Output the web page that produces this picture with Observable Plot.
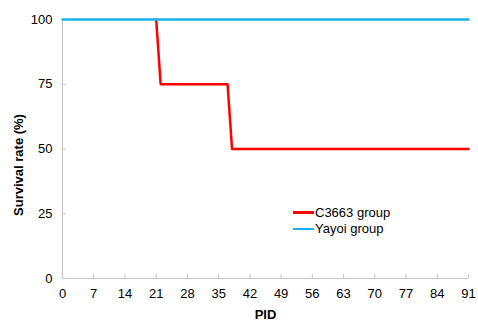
<!DOCTYPE html>
<html>
<head>
<meta charset="utf-8">
<script src="https://cdn.jsdelivr.net/npm/d3@7"></script>
<script src="https://cdn.jsdelivr.net/npm/@observablehq/plot@0.6"></script>
<style>
  body { margin: 0; background: #fff; font-family: "Liberation Sans", Arial, sans-serif; }
  #wrap { position: relative; width: 478px; height: 322px; }
  #legend { position: absolute; left: 293px; top: 204px; font-size: 13px; color: #000; }
  .item { display: flex; align-items: center; height: 16.5px; }
  .swatch { width: 21px; height: 2.5px; margin-right: 1px; }
</style>
</head>
<body>
<div id="wrap"><div id="legend"></div></div>
<script>
const days = [21, 22, 37, 38, 91];
const c3663 = [100, 75, 75, 50, 50];
const yayoiDays = [0, 91];
const yayoi = [100, 100];
const xTicks = [0, 7, 14, 21, 28, 35, 42, 49, 56, 63, 70, 77, 84, 91];
const yTicks = [0, 25, 50, 75, 100];
const seriesNames = ["C3663 group", "Yayoi group"];
const seriesColors = ["#ff0000", "#1ab2ea"];

const redData = days.map((d, i) => ({x: d, y: c3663[i]}));
const blueData = yayoiDays.map((d, i) => ({x: d, y: yayoi[i]}));

const chart = Plot.plot({
  width: 478,
  height: 322,
  marginLeft: 62,
  marginRight: 10,
  marginTop: 19,
  marginBottom: 44,
  style: {fontFamily: "Liberation Sans, Arial, sans-serif", fontSize: "13px", color: "#000", background: "#fff"},
  x: {domain: [0, 91]},
  y: {domain: [0, 100]},
  marks: [
    Plot.ruleY([0], {stroke: "#c4c4c4", strokeWidth: 1}),
    Plot.ruleX([0], {stroke: "#c4c4c4", strokeWidth: 1}),
    Plot.axisX({ticks: xTicks, tickSize: -4, tickPadding: 14, stroke: "#c4c4c4", label: null, fontSize: 13, fill: "#000"}),
    Plot.axisY({ticks: yTicks, tickSize: -4, tickPadding: 14, stroke: "#c4c4c4", label: null, fontSize: 13, fill: "#000"}),
    Plot.line(redData, {x: "x", y: "y", stroke: seriesColors[0], strokeWidth: 2.5}),
    Plot.line(blueData, {x: "x", y: "y", stroke: seriesColors[1], strokeWidth: 2.5}),
    Plot.text(["PID"], {frameAnchor: "bottom", dy: 40, text: d => d, fontWeight: "bold", fontSize: 13}),
    Plot.text(["Survival rate (%)"], {frameAnchor: "left", textAnchor: "middle", dx: -44, dy: 16, rotate: -90, text: d => d, fontWeight: "bold", fontSize: 13})
  ]
});
document.getElementById("wrap").prepend(chart);

const legend = document.getElementById("legend");
seriesNames.forEach((name, i) => {
  const item = document.createElement("div");
  item.className = "item";
  const sw = document.createElement("span");
  sw.className = "swatch";
  sw.style.background = seriesColors[i];
  const t = document.createElement("span");
  t.textContent = name;
  item.append(sw, t);
  legend.append(item);
});
</script>
</body>
</html>
